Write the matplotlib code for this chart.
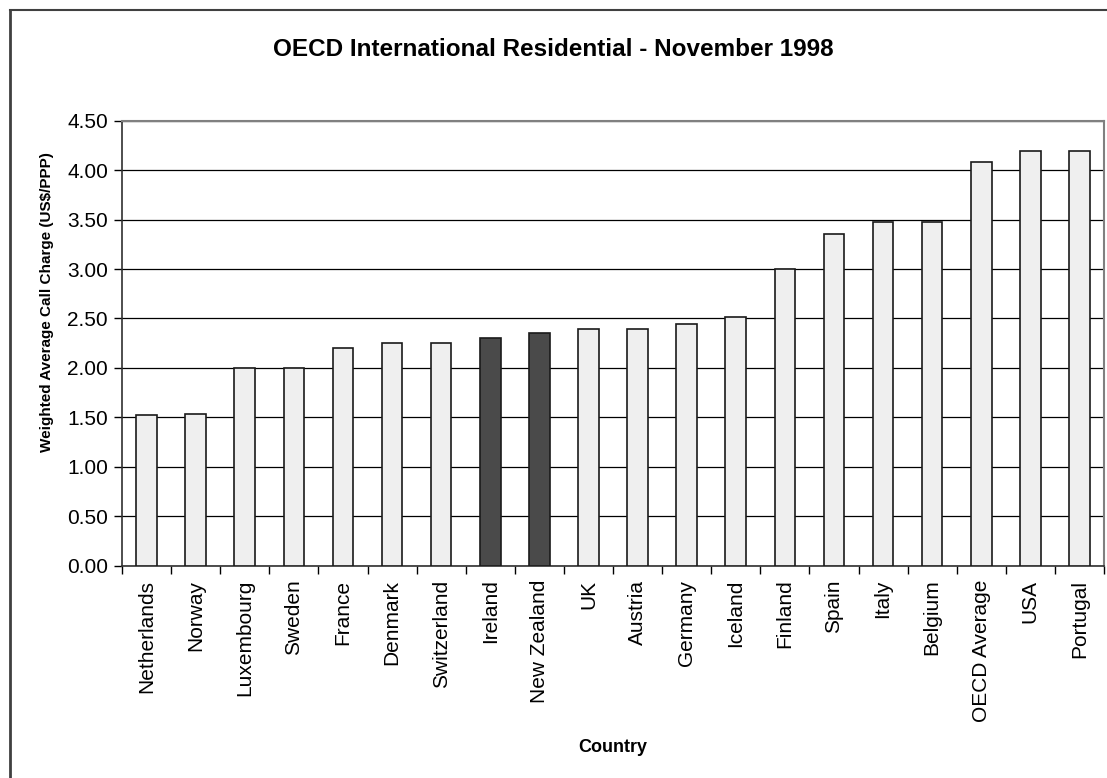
import matplotlib
matplotlib.use("Agg")
from matplotlib import pyplot as plt
from matplotlib.lines import Line2D
import numpy as np

countries = ["Netherlands", "Norway", "Luxembourg", "Sweden", "France", "Denmark",
             "Switzerland", "Ireland", "New Zealand", "UK", "Austria", "Germany",
             "Iceland", "Finland", "Spain", "Italy", "Belgium", "OECD Average",
             "USA", "Portugal"]
charges = [1.52, 1.53, 2.00, 2.00, 2.20, 2.25, 2.25, 2.30, 2.35, 2.39, 2.39, 2.44,
           2.52, 3.00, 3.35, 3.48, 3.48, 4.08, 4.19, 4.19]
highlight = ["Ireland", "New Zealand"]

plt.rcParams['font.family'] = ['Liberation Sans', 'DejaVu Sans']

W, H = 1107, 778
fig = plt.figure(figsize=(W / 100, H / 100), dpi=100)

# frame around the chart (only left and top edges fall inside the image)
fig.add_artist(Line2D([10 / W, 10 / W], [0, 1 - 10 / H], transform=fig.transFigure,
                      color='#404040', lw=2))
fig.add_artist(Line2D([10 / W, 1], [1 - 10 / H, 1 - 10 / H], transform=fig.transFigure,
                      color='#404040', lw=1.5))

left, right, top, bottom = 122, 1104, 120.7, 565.7
ax = fig.add_axes([left / W, 1 - bottom / H, (right - left) / W, (bottom - top) / H])

x = np.arange(len(countries))
colors = ['#4a4a4a' if c in highlight else '#efefef' for c in countries]
ax.bar(x, charges, width=0.42, color=colors, edgecolor='#1a1a1a', linewidth=1.2, zorder=3)

ax.set_xlim(-0.5, len(countries) - 0.5)
ax.set_ylim(0, 4.5)
ax.set_yticks(np.arange(0, 4.51, 0.5))
ax.set_yticklabels([f"{v:.2f}" for v in np.arange(0, 4.51, 0.5)], fontsize=15)
ax.yaxis.grid(True, color='black', lw=0.9, zorder=0)

ax.set_xticks(x)
ax.set_xticklabels(countries, rotation=90, fontsize=15)
ax.set_xticks(np.arange(-0.5, len(countries)), minor=True)
ax.tick_params(axis='x', which='major', length=0, pad=10)
ax.tick_params(axis='x', which='minor', length=6, width=1, direction='out')
ax.tick_params(axis='y', length=6, width=1, direction='out', pad=4)

for side in ['top', 'right']:
    ax.spines[side].set_color('#808080')
    ax.spines[side].set_linewidth(1.5)
for side in ['left', 'bottom']:
    ax.spines[side].set_color('#303030')
    ax.spines[side].set_linewidth(1.2)

fig.text(553 / W, 1 - 50 / H, "OECD International Residential - November 1998",
         ha='center', va='center', fontsize=17.5, fontweight='bold')
fig.text(47 / W, 1 - 302 / H, "Weighted Average Call Charge (US$/PPP)",
         ha='center', va='center', rotation=90, fontsize=11, fontweight='bold')
fig.text(613 / W, 1 - 747 / H, "Country", ha='center', va='center',
         fontsize=13, fontweight='bold')

plt.savefig('out.png', dpi=100)
